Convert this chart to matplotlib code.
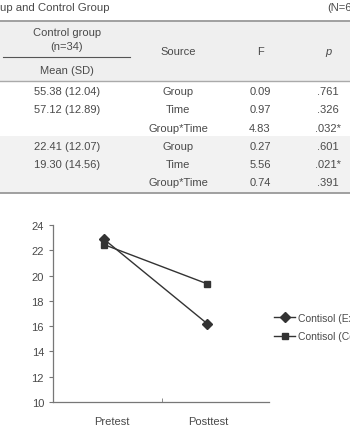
import matplotlib.pyplot as plt
from matplotlib.patches import Rectangle
from matplotlib.lines import Line2D

W, H = 350, 431

# table data
control_means = ["55.38 (12.04)", "57.12 (12.89)", "", "22.41 (12.07)", "19.30 (14.56)", ""]
sources = ["Group", "Time", "Group*Time", "Group", "Time", "Group*Time"]
f_values = ["0.09", "0.97", "4.83", "0.27", "5.56", "0.74"]
p_values = [".761", ".326", ".032*", ".601", ".021*", ".391"]

# chart data
times = ["Pretest", "Posttest"]
exp_cortisol = [22.87, 16.2]
ctl_cortisol = [22.45, 19.35]

plt.rcParams['font.family'] = ['Liberation Sans', 'DejaVu Sans']
txt_col = '#4a4a4a'

fig = plt.figure(figsize=(W / 100, H / 100), dpi=100)


def fx(x):
    return x / W


def fy(y):
    return 1 - y / H


def put(x, y, s, ha='center', size=8, **kw):
    fig.text(fx(x), fy(y), s, ha=ha, va='center', fontsize=size, color=txt_col, **kw)


# title line
put(0, 8, "up and Control Group", ha='left', size=8.2)
put(327, 8, "(N=6", ha='left', size=8)

# shaded bands
fig.patches.append(Rectangle((0, fy(82)), 1, (82 - 22) / H, transform=fig.transFigure,
                             facecolor='#efefef', edgecolor='none', zorder=0))
fig.patches.append(Rectangle((0, fy(194)), 1, (194 - 137) / H, transform=fig.transFigure,
                             facecolor='#f2f2f2', edgecolor='none', zorder=0))

# rules
for y, lw, c in [(22, 1.3, '#999999'), (82, 1.0, '#aaaaaa'), (194, 1.3, '#999999')]:
    fig.add_artist(Line2D([0, 1], [fy(y), fy(y)], transform=fig.transFigure, color=c, lw=lw))
fig.add_artist(Line2D([fx(3), fx(130)], [fy(58), fy(58)], transform=fig.transFigure,
                      color='#555555', lw=0.8))

# header
put(67, 33, "Control group")
put(67, 47, "(n=34)")
put(67, 71, "Mean (SD)")
put(178, 52, "Source")
put(260, 52, "F")
put(328, 52, "p", style='italic')

row_y = [92, 110, 129, 147, 165, 183]
for i, y in enumerate(row_y):
    if control_means[i]:
        put(67, y, control_means[i])
    put(178, y, sources[i])
    put(260, y, f_values[i])
    put(328, y, p_values[i])

# line chart
ax = fig.add_axes([fx(53), fy(403), (269 - 53) / W, (403 - 226) / H])
x = [0, 1]
ax.plot(x, exp_cortisol, color='#333333', lw=1, marker='D', ms=5,
        label="Contisol (Experimental group)")
ax.plot(x, ctl_cortisol, color='#333333', lw=1, marker='s', ms=4.5,
        label="Contisol (Control group)")
ax.set_xlim(-0.495, 1.6)
ax.set_ylim(10, 24)
ax.set_yticks(range(10, 25, 2))
ax.set_xticks([0.08, 1.01])
ax.set_xticklabels(times)
ax.tick_params(axis='x', length=0, pad=10, labelsize=8, labelcolor=txt_col)
ax.tick_params(axis='y', length=3, color='#777777', labelsize=8, labelcolor=txt_col)
ax.set_xticks([0.56], minor=True)
ax.tick_params(axis='x', which='minor', length=3, direction='in', color='#777777')
for s in ['top', 'right']:
    ax.spines[s].set_visible(False)
for s in ['left', 'bottom']:
    ax.spines[s].set_color('#777777')
    ax.spines[s].set_linewidth(0.9)

fig.legend(loc='center left', bbox_to_anchor=(fx(270), fy(328)), frameon=False,
           fontsize=7.5, handlelength=2.0, handletextpad=0.3, labelspacing=0.8,
           labelcolor=txt_col, borderaxespad=0)

fig.savefig('out.png', dpi=100)
